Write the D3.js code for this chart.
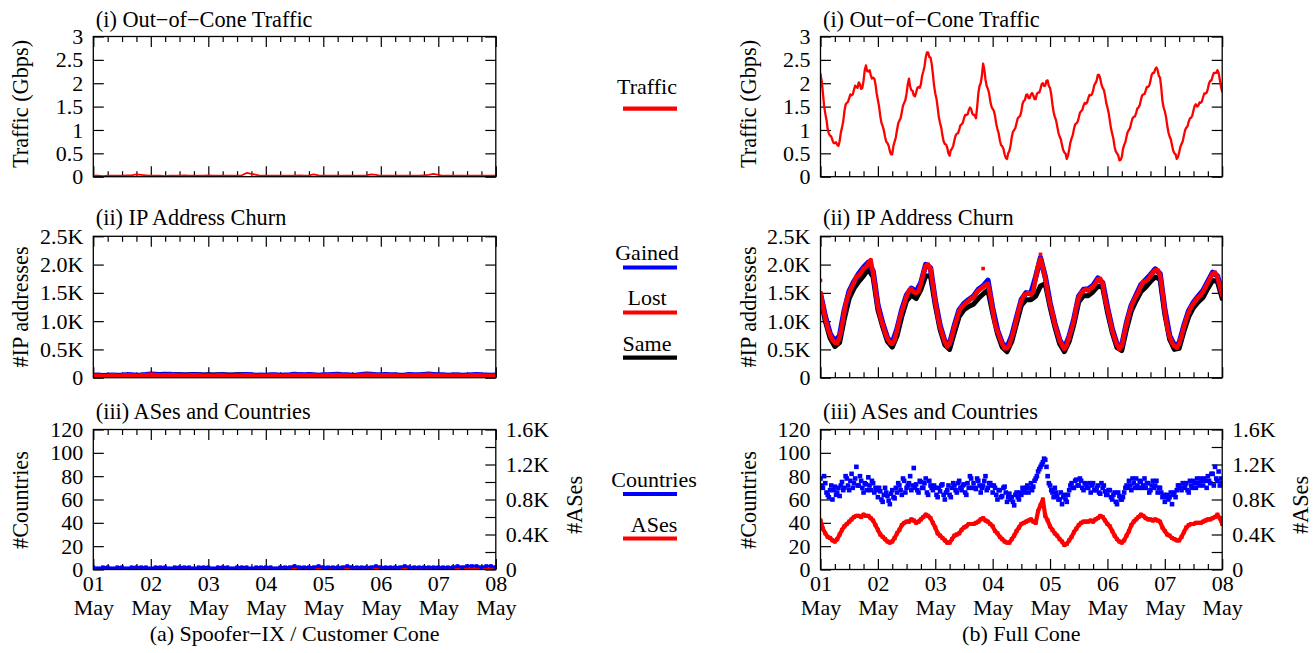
<!DOCTYPE html>
<html><head><meta charset="utf-8">
<script src="https://cdn.jsdelivr.net/npm/d3@7"></script>
<style>
body{margin:0;background:#fff}
svg{display:block}
text{font-family:"Liberation Serif","Times New Roman",serif;fill:#000}
</style>
</head><body>
<svg id="c" width="1315" height="653"></svg>
<script>
// ---------- tick labels ----------
const dayLabels = ["01","02","03","04","05","06","07","08"];
const monthLabel = "May";
const trafficTicks = [0,0.5,1,1.5,2,2.5,3];
const trafficTickLabels = ["0","0.5","1","1.5","2","2.5","3"];
const churnTicks = [0,500,1000,1500,2000,2500];
const churnTickLabels = ["0","0.5K","1.0K","1.5K","2.0K","2.5K"];
const countryTicks = [0,20,40,60,80,100,120];
const asTicks = [0,200,400,600,800,1000,1200,1400,1600];
const asTickLabels = ["0","","0.4K","","0.8K","","1.2K","","1.6K"];

// ---------- (a) Spoofer-IX / Customer Cone : 2-hour samples, 01 May 00:00 .. 08 May 00:00 ----------
const trafficSpoofer = [
0.02,0.02,0.01,0.02,0.02,0.02,0.02,0.03,0.03,0.05,
0.04,0.03,0.02,0.02,0.02,0.01,0.02,0.02,0.02,0.03,
0.02,0.02,0.02,0.02,0.03,0.02,0.02,0.02,0.02,0.02,
0.02,0.03,0.08,0.06,0.04,0.02,0.02,0.02,0.02,0.02,
0.02,0.02,0.02,0.03,0.02,0.03,0.05,0.03,0.02,0.02,
0.02,0.02,0.02,0.02,0.02,0.02,0.02,0.03,0.05,0.04,
0.02,0.02,0.02,0.02,0.02,0.02,0.02,0.02,0.02,0.03,
0.04,0.06,0.04,0.02,0.02,0.02,0.02,0.02,0.02,0.02,
0.02,0.02,0.02,0.02,0.02];
const lostSpoofer = [
30,35,28,32,38,30,36,45,40,32,
38,46,55,48,40,42,50,44,40,34,
38,45,40,33,36,30,38,40,32,30,
36,38,45,40,32,36,30,38,40,32,
36,40,48,42,40,46,40,32,38,40,
46,48,40,38,30,36,45,52,48,40,
38,46,40,38,32,36,45,40,38,46,
52,46,40,38,30,36,38,32,36,40,
44,38,36,32,36];
const gainedSpoofer = [
40,42,36,40,45,38,42,50,48,40,
45,52,62,55,48,50,56,50,46,42,
45,50,46,40,44,38,45,48,40,38,
44,46,52,48,40,44,38,46,48,40,
44,48,55,50,48,54,48,40,46,48,
54,56,48,46,38,44,52,60,56,48,
46,54,48,46,40,44,52,48,46,54,
60,54,48,46,38,44,46,40,44,48,
52,46,44,40,44];
const sameSpoofer = [
25,28,24,30,32,28,30,38,36,30,
45,50,58,52,55,60,56,50,54,48,
52,55,50,48,52,46,50,54,48,46,
50,52,48,40,32,30,28,32,30,28,
30,32,36,34,32,36,32,28,30,32,
36,38,32,30,26,30,36,40,36,32,
30,36,32,30,28,30,36,32,30,36,
40,36,32,30,26,28,30,28,30,32,
34,30,28,26,28];
const countriesSpoofer = [
2,1,2,2,1,2,2,1,2,2,
2,2,1,2,2,2,1,2,2,2,
2,1,2,2,2,1,2,2,2,1,
2,2,2,1,2,2,2,2,1,2,
2,2,3,2,2,2,2,3,2,2,
2,2,2,3,2,2,2,2,2,3,
2,2,2,2,2,3,2,2,2,2,
2,2,2,2,2,2,3,2,3,3,
3,2,3,3,2];
const asesSpoofer = [
10,8,12,10,8,12,10,8,10,12,
10,8,10,12,10,8,10,12,10,10,
12,10,8,10,12,10,10,8,12,10,
10,12,10,8,10,12,14,10,12,10,
12,10,14,12,10,12,10,14,12,10,
12,14,10,12,10,12,14,12,10,12,
12,10,14,12,12,10,12,14,12,10,
12,14,12,10,12,14,12,16,14,12,
14,16,14,12,14];

// ---------- (b) Full Cone ----------
// traffic at each full hour (0..168)
const trafficFull = [
2.20,1.80,1.35,1.02,0.88,0.78,0.72,0.68,0.76,1.05,1.40,1.58,1.68,1.74,1.86,1.92,2.02,1.88,2.05,2.38,2.25,2.18,2.12,1.98,
1.64,1.30,1.08,0.85,0.72,0.55,0.48,0.75,1.00,1.20,1.38,1.58,1.78,2.10,1.85,1.74,1.80,1.92,1.98,2.25,2.55,2.66,2.55,2.20,
1.78,1.48,1.15,0.88,0.70,0.62,0.45,0.60,0.78,0.92,1.00,1.12,1.25,1.32,1.42,1.45,1.32,1.25,1.78,2.00,2.42,2.08,1.88,1.62,
1.45,1.30,1.02,0.78,0.65,0.48,0.38,0.55,0.85,1.00,1.15,1.28,1.40,1.62,1.75,1.68,1.76,1.74,1.66,1.80,1.88,2.00,1.95,2.06,
1.90,1.55,1.28,1.08,0.86,0.68,0.52,0.38,0.58,0.82,1.02,1.14,1.26,1.40,1.52,1.56,1.68,1.74,1.84,2.00,2.18,2.10,1.90,1.74,
1.48,1.20,0.92,0.64,0.50,0.35,0.42,0.68,0.86,1.00,1.16,1.28,1.36,1.48,1.64,1.76,1.84,1.92,2.05,2.22,2.30,2.28,2.12,1.62,
1.40,1.10,0.86,0.68,0.50,0.38,0.52,0.70,0.88,1.05,1.18,1.26,1.42,1.55,1.52,1.58,1.70,1.78,1.88,2.05,2.15,2.22,2.28,2.08,
1.82];
// traffic at each half hour (0.5..167.5)
const trafficFullHalf = [
2.05,1.52,1.22,0.92,0.86,0.72,0.74,0.66,0.94,1.18,1.54,1.60,1.76,1.76,1.95,1.90,1.98,1.90,2.28,2.26,2.28,2.10,2.10,1.78,
1.50,1.15,0.99,0.75,0.66,0.48,0.66,0.84,1.14,1.25,1.52,1.64,1.98,1.93,1.84,1.72,1.90,1.90,2.16,2.36,2.66,2.56,2.42,1.95,
1.67,1.27,1.05,0.76,0.69,0.50,0.57,0.66,0.88,0.93,1.10,1.15,1.32,1.33,1.48,1.35,1.32,1.48,1.94,2.16,2.30,1.94,1.79,1.50,
1.41,1.13,0.93,0.68,0.60,0.40,0.50,0.67,0.96,1.04,1.25,1.30,1.56,1.64,1.76,1.68,1.79,1.66,1.77,1.80,1.98,1.94,2.05,1.94,
1.76,1.38,1.21,0.94,0.80,0.57,0.49,0.45,0.73,0.89,1.12,1.17,1.37,1.43,1.58,1.59,1.75,1.76,1.96,2.06,2.18,1.97,1.86,1.58,
1.37,1.03,0.81,0.54,0.46,0.36,0.59,0.74,0.96,1.05,1.25,1.29,1.46,1.53,1.74,1.77,1.92,1.95,2.18,2.22,2.34,2.16,1.91,1.48,
1.28,0.95,0.80,0.56,0.48,0.42,0.64,0.76,1.00,1.08,1.25,1.31,1.52,1.50,1.59,1.61,1.78,1.80,2.00,2.06,2.22,2.22,2.22,1.92];
// IP churn, lost addresses at each full hour
const lostFull = [
1500,1260,1060,880,760,670,620,610,720,920,1180,1380,1500,1600,1680,1780,1810,1860,1930,1960,2020,2080,1850,1550,
1260,1080,940,800,690,620,600,670,840,1020,1180,1300,1440,1540,1570,1510,1500,1530,1660,1840,1980,2000,1920,1640,
1340,1100,900,760,630,550,600,740,900,1040,1180,1250,1290,1330,1360,1400,1420,1480,1540,1570,1600,1640,1660,1450,
1200,950,820,700,600,520,520,580,720,860,1040,1220,1360,1450,1480,1500,1470,1520,1750,1980,2100,1950,1760,1500,
1300,1140,940,800,660,580,510,580,720,860,1020,1250,1420,1500,1540,1560,1540,1580,1610,1660,1740,1750,1660,1400,
1220,1030,840,700,580,510,560,760,950,1120,1260,1360,1440,1520,1620,1690,1710,1740,1800,1860,1900,1900,1820,1520,
1180,900,720,620,560,530,600,740,900,1040,1160,1250,1310,1370,1420,1460,1520,1600,1680,1760,1840,1860,1780,1620,
1460];
const lostFullOutlierHours = [0, 68, 92];
const lostFullOutliers = [1720, 1930, 2180];
// gained / same at every 2 hours
const gainedFull = [
1480,1080,780,640,740,1200,1530,1700,1840,1950,2040,1880,
1280,960,700,610,860,1200,1460,1580,1520,1680,2000,1940,
1360,920,640,600,920,1200,1310,1380,1440,1560,1620,1720,
1220,840,610,530,740,1060,1380,1500,1490,1780,2120,1780,
1320,960,670,520,730,1040,1440,1560,1570,1630,1760,1680,
1240,860,590,570,970,1280,1460,1640,1730,1820,1920,1840,
1200,740,570,610,920,1180,1330,1440,1540,1700,1860,1800,
1480];
const sameFull = [
1420,1000,700,550,620,1050,1400,1580,1700,1800,1920,1780,
1200,900,640,540,740,1080,1360,1460,1400,1560,1800,1800,
1280,850,580,500,800,1080,1200,1260,1300,1400,1480,1550,
1140,780,540,460,640,960,1280,1380,1380,1440,1620,1660,
1250,900,600,460,640,950,1340,1450,1450,1520,1620,1600,
1160,800,530,480,860,1180,1360,1520,1600,1700,1780,1740,
1120,680,500,520,820,1080,1240,1340,1420,1580,1720,1700,
1400];
// countries at each full hour and each half hour
const countriesFullA = [
78,70,74,64,68,60,71,66, 63,75,70,78,68,82,74,88, 72,76,66,73,79,68,74,70,
62,67,58,70,63,56,68,61, 66,72,64,76,70,74,68,87, 73,66,75,70,78,64,72,68,
70,62,67,73,60,68,64,70, 72,66,76,68,73,64,70,78, 74,69,76,66,72,80,70,74,
66,70,60,68,63,71,58,65, 62,55,66,60,64,68,70,66, 74,71,78,84,88,92,94,80,
72,66,70,63,60,56,64,58, 68,74,70,77,72,76,68,73, 70,66,74,68,72,65,70,67,
64,68,60,66,56,63,60,66, 72,76,68,74,78,70,75,72, 70,74,68,76,72,66,70,62,
58,64,62,56,66,68,72,68, 70,74,66,72,76,70,74,78, 72,76,80,74,82,88,76,72,
74];
const countriesFullB = [
72,80,66,62,72,68,64,70, 72,68,80,72,76,70,78,72, 80,70,74,68,72,76,66,68,
70,60,64,66,59,65,62,70, 74,68,78,66,72,80,72,70, 68,76,70,74,66,76,70,72,
64,70,72,64,66,72,62,74, 68,74,70,72,66,74,80,70, 70,78,72,70,76,68,74,72,
72,64,68,62,70,66,62,60, 58,64,62,66,70,66,72,70, 68,76,80,86,90,95,88,74,
68,62,66,60,66,62,60,64, 72,70,76,72,78,70,74,70, 74,72,68,70,66,74,72,64,
68,62,64,58,66,60,62,70, 70,72,78,70,72,76,70,78, 74,66,72,70,76,70,66,64,
62,60,66,64,62,72,70,74, 72,68,76,70,74,78,72,76, 78,70,76,82,72,78,84,78];
const asesFull = [
560,467,413,373,360,333,320,347, 400,453,493,520,547,573,600,613, 613,600,627,613,613,587,560,507,
453,400,373,347,320,307,320,360, 413,453,507,533,547,547,573,560, 533,547,573,600,627,613,587,533,
480,413,387,360,333,307,307,347, 387,400,413,453,480,493,520,520, 520,533,547,573,587,560,547,520,
493,440,413,373,347,320,307,307, 347,387,440,480,520,533,547,560, 573,547,533,667,733,800,613,560,
493,453,413,387,347,320,280,293, 333,373,427,467,507,533,547,547, 547,560,547,573,587,613,600,560,
520,493,440,387,347,320,307,333, 387,440,507,547,573,600,627,613, 587,573,573,560,573,560,547,480,
440,400,387,360,347,333,333,373, 427,480,507,520,520,533,533,533, 547,560,573,573,587,600,627,587,
520];

// ---------- layout ----------
const svg = d3.select("#c");
const FONT = "'Liberation Serif','Times New Roman',serif";
const TICKFONT = 22, TEXTFONT = 22.3;
const RED = "#ff0000", BLUE = "#0000ff", BLACK = "#000000";
const cols = [
  {x0:93.3, x1:495.8, caption:"(a) Spoofer\u2212IX / Customer Cone",
   traffic:[[trafficSpoofer,null]], lost:lostSpoofer, gained:gainedSpoofer, same:sameSpoofer,
   outH:[], out:[], countries:[countriesSpoofer], ases:asesSpoofer},
  {x0:820.5, x1:1222.2, caption:"(b) Full Cone",
   traffic:[[trafficFull,trafficFullHalf]], lost:lostFull, gained:gainedFull, same:sameFull,
   outH:lostFullOutlierHours, out:lostFullOutliers, countries:[countriesFullA, countriesFullB], ases:asesFull}
];
const rows = [{y0:36.5,y1:176.7},{y0:236.3,y1:377.7},{y0:429.5,y1:569.5}];
const titles = ["(i) Out\u2212of\u2212Cone Traffic","(ii) IP Address Churn","(iii) ASes and Countries"];
const yTitles = ["Traffic (Gbps)","#IP addresses","#Countries"];

const timesFor = arr => arr.map((_,i)=> i*168/(arr.length-1));

let clipId = 0;
function panelFrame(col, row){
  const x = d3.scaleLinear().domain([0,168]).range([col.x0,col.x1]);
  const g = svg.append("g");
  const minor = d3.range(0,169,6).filter(h=>h%24!==0);
  const major = d3.range(0,169,24);
  [[d3.axisBottom, row.y1],[d3.axisTop, row.y0]].forEach(([ax,yy])=>{
    const gm = g.append("g").attr("transform",`translate(0,${yy})`)
      .call(ax(x).tickValues(minor).tickFormat("").tickSizeInner(-5.5).tickSizeOuter(0));
    gm.select(".domain").remove();
    const gM = g.append("g").attr("transform",`translate(0,${yy})`)
      .call(ax(x).tickValues(major).tickFormat("").tickSizeInner(-10.5).tickSizeOuter(0));
    gM.select(".domain").remove();
  });
  g.selectAll(".tick line").attr("stroke","#000").attr("stroke-width",1.2);
  return x;
}

function styleAxis(sel, size){
  sel.select(".domain").remove();
  sel.attr("font-family",FONT).attr("font-size",size);
  sel.selectAll(".tick line").attr("stroke","#000").attr("stroke-width",1.2);
  sel.selectAll(".tick text").attr("fill","#000");
}

function leftAxis(col,row,y,ticks,labels,mirror){
  const ga = svg.append("g").attr("transform",`translate(${col.x0},0)`)
    .call(d3.axisLeft(y).tickValues(ticks).tickFormat((d,i)=>labels[i]).tickSizeInner(-10.5).tickSizeOuter(0).tickPadding(10));
  styleAxis(ga,TICKFONT);
  if(mirror){
    const gr = svg.append("g").attr("transform",`translate(${col.x1},0)`)
      .call(d3.axisRight(y).tickValues(ticks).tickFormat("").tickSizeInner(-10.5).tickSizeOuter(0));
    styleAxis(gr,TICKFONT);
  }
}

function clipFor(col,row){
  const id = "clip"+(clipId++);
  svg.append("clipPath").attr("id",id).append("rect")
    .attr("x",col.x0).attr("y",row.y0-3).attr("width",col.x1-col.x0).attr("height",row.y1-row.y0+3);
  return svg.append("g").attr("clip-path",`url(#${id})`);
}

function drawSeries(g, x, y, vals, times, color, lw, msize){
  const pts = vals.map((v,i)=>[times[i],v]);
  if(lw>0){
    g.append("path").datum(pts)
      .attr("d", d3.line().x(d=>x(d[0])).y(d=>y(d[1])))
      .attr("fill","none").attr("stroke",color).attr("stroke-width",lw)
      .attr("stroke-linejoin","round").attr("stroke-linecap","round");
  }
  if(msize>0){
    g.append("g").selectAll("rect").data(pts).join("rect")
      .attr("x",d=>x(d[0])-msize/2).attr("y",d=>y(d[1])-msize/2)
      .attr("width",msize).attr("height",msize).attr("fill",color);
  }
}

function box(col,row){
  svg.append("rect").attr("x",col.x0).attr("y",row.y0)
    .attr("width",col.x1-col.x0).attr("height",row.y1-row.y0)
    .attr("fill","none").attr("stroke","#000").attr("stroke-width",1.3);
}

cols.forEach((col,ci)=>{
  // ----- panel (i) traffic -----
  let row = rows[0];
  let y = d3.scaleLinear().domain([0,3]).range([row.y1,row.y0]);
  let x = panelFrame(col,row);
  leftAxis(col,row,y,trafficTicks,trafficTickLabels,true);
  let g = clipFor(col,row);
  col.traffic.forEach(([full,half])=>{
    let vals, times;
    if(half){
      vals=[]; times=[];
      full.forEach((v,i)=>{ vals.push(v); times.push(i); if(i<half.length){ vals.push(half[i]); times.push(i+0.5);} });
    } else { vals = full; times = timesFor(full); }
    drawSeries(g,x,y,vals,times,RED,ci===1?2.3:1.8,0);
  });
  box(col,row);

  // ----- panel (ii) churn -----
  row = rows[1];
  y = d3.scaleLinear().domain([0,2500]).range([row.y1,row.y0]);
  x = panelFrame(col,row);
  leftAxis(col,row,y,churnTicks,churnTickLabels,true);
  g = clipFor(col,row);
  drawSeries(g,x,y,col.same,timesFor(col.same),BLACK,5,0);
  drawSeries(g,x,y,col.gained,timesFor(col.gained),BLUE,5.5,0);
  drawSeries(g,x,y,col.lost,timesFor(col.lost),RED,4.4,3.6);
  drawSeries(g,x,y,col.out,col.outH,RED,0,3.6);
  box(col,row);

  // ----- panel (iii) ASes and countries -----
  row = rows[2];
  y = d3.scaleLinear().domain([0,120]).range([row.y1,row.y0]);
  const y2 = d3.scaleLinear().domain([0,1600]).range([row.y1,row.y0]);
  x = panelFrame(col,row);
  leftAxis(col,row,y,countryTicks,countryTicks.map(String),false);
  const gr = svg.append("g").attr("transform",`translate(${col.x1},0)`)
    .call(d3.axisRight(y2).tickValues(asTicks).tickFormat((d,i)=>asTickLabels[i]).tickSizeInner(-10.5).tickSizeOuter(0).tickPadding(10));
  styleAxis(gr,TICKFONT);
  const gx = svg.append("g").attr("transform",`translate(0,${row.y1})`)
    .call(d3.axisBottom(x).tickValues(d3.range(0,169,24)).tickFormat((d,i)=>dayLabels[i]).tickSize(0));
  styleAxis(gx,TICKFONT);
  gx.selectAll(".tick text").each(function(d,i){
    const t = d3.select(this); const lab = dayLabels[i];
    t.text(null).attr("y",0).attr("dy",null);
    t.append("tspan").attr("x",0).attr("y",21.5).text(lab);
    t.append("tspan").attr("x",0).attr("y",45).text(monthLabel);
  });
  g = clipFor(col,row);
  drawSeries(g,x,y2,col.ases,timesFor(col.ases),RED,ci===1?4.2:2.5,ci===1?4:3.2);
  col.countries.forEach((arr,k)=>{
    const times = k===0 ? timesFor(arr) : arr.map((_,i)=>i+0.5);
    drawSeries(g,x,y,arr,times,BLUE,ci===0?2.5:0,ci===0?3.6:4.6);
  });
  box(col,row);

  // ----- titles, axis titles, caption -----
  const tBase = [26.5,224.5,419];
  titles.forEach((t,i)=>{
    svg.append("text").attr("x",col.x0+2.5).attr("y",tBase[i]).attr("font-size",TEXTFONT).text(t);
  });
  const yc = [104,307,500];
  yTitles.forEach((t,i)=>{
    const xx = col.x0-65;
    svg.append("text").attr("transform",`translate(${xx},${yc[i]}) rotate(-90)`)
      .attr("text-anchor","middle").attr("font-size",TEXTFONT).text(t);
  });
  svg.append("text").attr("transform",`translate(${col.x1+86},505) rotate(-90)`)
    .attr("text-anchor","middle").attr("font-size",TEXTFONT).text("#ASes");
  svg.append("text").attr("x",(col.x0+col.x1)/2).attr("y",641)
    .attr("text-anchor","middle").attr("font-size",22).text(col.caption);
});

// ---------- legends (middle column) ----------
const legendItems = [
  {label:"Traffic", color:RED, ty:93.5, ly:108.7, cx:647},
  {label:"Gained", color:BLUE, ty:260, ly:267.5, cx:647},
  {label:"Lost", color:RED, ty:305, ly:312.5, cx:647},
  {label:"Same", color:BLACK, ty:350.5, ly:357.7, cx:647},
  {label:"Countries", color:BLUE, ty:487, ly:494, cx:654},
  {label:"ASes", color:RED, ty:531.5, ly:538.5, cx:654}
];
const lg = svg.append("g");
lg.selectAll("text").data(legendItems).join("text")
  .attr("x",d=>d.cx).attr("y",d=>d.ty).attr("text-anchor","middle")
  .attr("font-size",22).text(d=>d.label);
lg.selectAll("line").data(legendItems).join("line")
  .attr("x1",623).attr("x2",677).attr("y1",d=>d.ly).attr("y2",d=>d.ly)
  .attr("stroke",d=>d.color).attr("stroke-width",4.2);
</script>
</body></html>
